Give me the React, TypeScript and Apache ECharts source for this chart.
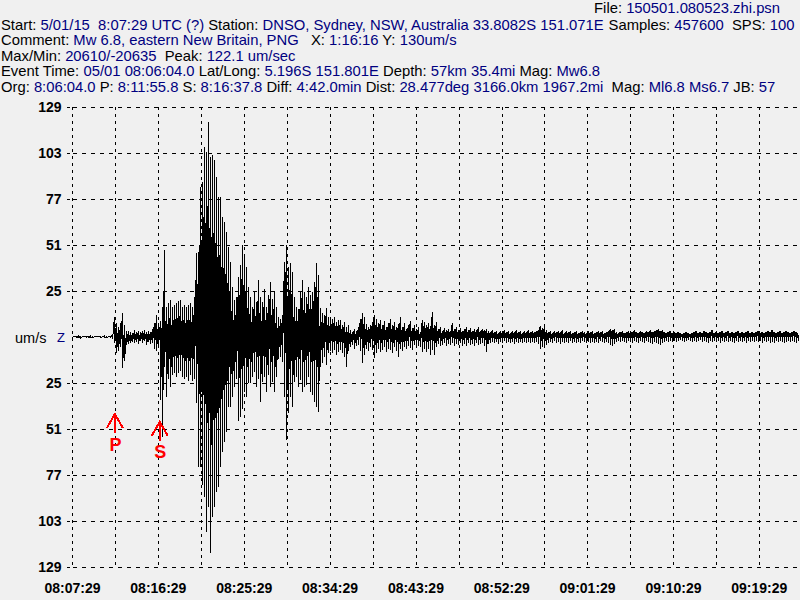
import React, { useEffect, useRef } from "react";
import * as echarts from "echarts";

// ---- axis / time constants (seconds after 08:07:29 UTC) ----
const START_CLOCK = 8 * 3600 + 7 * 60 + 29;
const SPAN_SEC = 4576; // 1:16:16
const STEP_SEC = 4576 / 364; // sampling of the read-off envelope
const TICK_SEC = 270; // 4.5 min grid
const LABEL_SEC = 540; // 9 min labels
const Y_LIMIT = 129;
const Y_STEP = 25.8;
const P_ARRIVAL = 266.8; // 8:11:55.8
const S_ARRIVAL = 548.8; // 8:16:37.8

// ---- trace values (um/s), upper / lower excursion per sample ----
const quietStart = 0;
const quietHi = [0.1, 0.1, 0.6, 0.8, 0.6, 0.1, 0.1, 0.2, 0.6, 0.8, 0.2, 0.1, 0.1, 0.1, 0.3, 0.1, 0.8, 0.2, 0.1, 0.2];
const quietLo = [-0.1, -0.1, -0.6, -0.6, -0.8, -0.1, -0.1, -0.3, -0.6, -0.7, -0.2, -0.1, -0.1, -0.1, -0.3, -0.1, -0.7, -0.3, -0.1, -0.2];

const pStart = 251.4;
const pHi = [1.1, 11.2, 7.9, 5.6, 7.9, 13.5, 6.7, 3.4, 3.4, 2.8, 2.2, 3.9, 2.8, 3.4, 2.8, 3.4, 3.9, 2.8, 3.4, 2.8, 4.5, 7.9, 12.3];
const pLo = [-1.1, -3.4, -9.0, -7.9, -5.6, -17.4, -13.5, -4.5, -3.9, -3.4, -2.8, -3.4, -2.8, -3.9, -2.2, -3.4, -2.2, -4.5, -2.8, -3.9, -3.4, -6.7, -7.9];

const sStart = 540.6;
const sHi = [
  7.9, 9.0, 16.8, 48.8, 16.8, 19.1, 20.8, 16.8, 18, 19.1,
  20.2, 20.8, 16.8, 18, 16.8, 18, 19.1, 16.8, 22.4, 47.1,
  47.7, 84.2, 87, 106.6, 103.8, 120.6, 101, 102.1, 99.3, 89.8,
  78.5, 78.5, 67.3, 64.5, 58.9, 50.5, 42.1, 28, 20.8, 22.4,
  33.7, 40.4, 51.6, 46, 39.3, 28,
];
const sLo = [
  -5.6, -35.3, -56.1, -16.8, -33.7, -23.6, -28, -21.3, -20.2, -22.4,
  -20.2, -19.1, -22.4, -23.6, -22.4, -24.7, -21.3, -24.7, -23.6, -37,
  -72.9, -72.9, -83, -89.8, -109.4, -95.4, -121.2, -101, -95.4, -87,
  -84.2, -72.9, -64.5, -58.9, -53.3, -39.3, -39.3, -33.7, -28, -23.6,
  -47.1, -44.9, -40.4, -30.9, -33.7, -25.8,
];

const laterStart = 1118.9;
const laterHi = [
  22.4, 16.8, 25.2, 19.6, 32, 22.4, 19.6, 26.9, 16.8, 23.6,
  30.9, 21.3, 25.2, 16.8, 11.2, 10.1, 12.3, 42.1, 51.6, 39.3,
  41.5, 36.5, 22.4, 16.8, 15.7, 25.2, 32, 25.2, 22.4, 28,
  23.6, 25.2, 30.9, 41.5, 34.8, 16.3, 13.5, 12.3, 16.3, 11.2,
  9.5, 10.1, 11.2, 8.4, 9.5, 9.5, 6.7, 8.4, 5.6, 6.7,
  3.9, 2.8, 4.5, 3.4, 5.6, 10.1, 13.5, 11.2, 7.3, 5.6,
  6.7, 8.4, 12.3, 10.1, 7.9, 9.5, 6.7, 9, 5.6, 7.9,
  10.1, 6.7, 8.4, 5.6, 7.3, 11.2, 5.6, 7.9, 4.5, 6.7,
  9, 5, 6.7, 4.5, 5.6,
];
const laterLo = [
  -25.8, -22.4, -19.6, -28, -23.6, -36.5, -25.2, -22.4, -30.9, -21.3,
  -28, -25.2, -30.9, -22.4, -12.3, -11.2, -14, -33.7, -57.8, -42.6,
  -33.7, -39.3, -25.2, -22.4, -28, -24.1, -30.9, -28, -26.9, -22.4,
  -30.9, -32.5, -36.5, -39.3, -42.1, -16.8, -14.6, -11.2, -15.7, -9,
  -7.9, -9, -7.3, -10.1, -8.4, -7.3, -9, -11.2, -16.8, -7.9,
  -5.6, -4.5, -6.7, -5, -4.5, -7.9, -14.6, -10.1, -6.7, -7.9,
  -5.6, -7.3, -11.8, -9, -6.7, -8.4, -7.3, -5.6, -8.4, -6.7,
  -7.3, -9, -5.6, -7.9, -11.2, -6.7, -7.9, -5.6, -6.7, -5,
  -6.2, -7.3, -4.5, -5.6, -5,
];

const codaEarlyStart = 2187.4;
const codaEarlyHi = [
  2.8, 9.5, 8.4, 6.7, 7.9, 6.2, 14, 6.7, 8.4, 4.5,
  5.6, 3.4, 5, 3.9, 4.5, 3.4, 7.9, 4.5, 5.6, 3.9,
  5, 3.4, 4.5, 5.6, 3.9, 5, 3.4, 4.5, 3.9, 5.6,
  3.4, 4.5, 3.9, 4.5, 3.4, 2.8, 3.9, 2.8, 3.4, 2.2,
  3.4, 2.8, 3.9, 2.8, 3.4, 2.2, 3.4, 2.8, 3.9, 2.8,
  3.4, 2.2, 3.4, 2.8, 3.9, 2.8, 3.4, 2.8, 3.4, 3.9,
  6.2, 5, 5.6, 3.9, 2.8, 3.4, 2.2, 3.4, 2.8, 3.4,
  2.8, 3.9, 2.2, 3.4, 2.8, 3.4, 2.2, 2.8, 3.4, 2.2,
  2.8, 3.4, 2.8, 2.2, 3.4, 2.8, 3.4, 2.2, 2.8, 3.4,
  2.8, 3.4, 2.2, 2.8, 3.4,
];
const codaEarlyLo = [
  -5.6, -8.4, -6.7, -8.4, -6.7, -10.1, -7.3, -10.1, -5.6, -3.9,
  -5, -4.5, -3.4, -5, -3.9, -4.5, -3.4, -5, -3.9, -4.5,
  -3.4, -5, -3.9, -5, -3.4, -4.5, -3.9, -5, -3.4, -4.5,
  -3.9, -3.4, -5, -8.4, -3.9, -3.4, -2.8, -3.4, -2.8, -3.9,
  -2.8, -3.4, -2.2, -3.4, -2.8, -3.4, -2.8, -3.9, -2.8, -3.4,
  -2.8, -3.4, -2.8, -3.4, -2.8, -3.4, -2.8, -3.4, -2.8, -3.9,
  -6.7, -5.6, -6.2, -4.5, -3.4, -2.8, -3.4, -2.2, -3.4, -2.8,
  -3.9, -2.8, -3.4, -2.8, -3.4, -2.2, -3.4, -2.8, -3.4, -2.8,
  -3.4, -2.2, -2.8, -3.4, -2.8, -3.4, -2.8, -3.4, -2.8, -3.4,
  -2.2, -2.8, -3.4, -2.8, -3.4,
];

const codaLateStart = 3381.7;
const codaLateHi = [
  4.5, 3.9, 4.5, 2.8, 2.2, 2.8, 3.4, 2.2, 2.8, 3.4,
  2.2, 2.8, 3.9, 2.8, 2.2, 3.4, 2.8, 2.2, 3.4, 2.8,
  3.9, 2.8, 3.4, 3.9, 4.5, 3.4, 3.9, 2.8, 2.2, 2.8,
  3.4, 2.2, 2.8, 2.2, 2.8, 2.2, 1.7, 2.2, 2.8, 2.2,
  1.7, 2.2, 2.8, 3.4, 2.2, 2.8, 2.2, 3.4, 2.8, 2.2,
  2.8, 3.9, 2.2, 2.8, 2.2, 2.8, 3.4, 2.2, 2.8, 3.4,
  2.2, 2.8, 2.2, 2.8, 3.4, 2.2, 2.8, 2.2, 2.8, 3.4,
  2.2, 2.8, 2.2, 2.8, 3.4, 2.2, 2.8, 2.2, 2.8, 3.4,
  2.8, 3.9, 2.8, 2.2, 2.8, 3.4, 2.2, 2.8, 3.4, 2.8,
  2.2, 2.8, 3.4, 2.8, 2.2,
];
const codaLateLo = [
  -4.5, -5, -3.9, -2.8, -2.2, -2.8, -2.2, -2.8, -3.4, -2.2,
  -2.8, -3.4, -2.2, -2.8, -3.4, -2.2, -2.8, -3.4, -2.2, -2.8,
  -3.4, -3.9, -2.8, -3.4, -3.9, -4.5, -3.4, -2.8, -2.2, -2.8,
  -2.2, -2.8, -2.2, -2.8, -2.2, -1.7, -2.2, -2.8, -2.2, -1.7,
  -2.2, -2.8, -2.2, -2.8, -2.2, -1.7, -2.8, -2.2, -2.8, -3.4,
  -2.2, -2.8, -2.2, -2.8, -2.2, -3.4, -2.2, -2.8, -2.2, -2.8,
  -2.2, -2.8, -3.4, -2.2, -2.8, -2.2, -2.8, -2.2, -3.4, -2.2,
  -2.8, -2.2, -2.8, -2.2, -2.8, -2.2, -3.4, -2.2, -2.8, -2.2,
  -3.4, -2.8, -3.4, -2.2, -2.8, -2.2, -2.8, -3.4, -2.8, -2.2,
  -2.8, -2.2, -2.8, -3.4, -2.2,
];

// ---- header text ----
const headerLines: [string, string][][] = [
  [["Start: ", "5/01/15  8:07:29 UTC (?)"], [" Station: ", "DNSO, Sydney, NSW, Australia 33.8082S 151.071E"], [" Samples: ", "457600"], ["  SPS: ", "100"]],
  [["Comment: ", "Mw 6.8, eastern New Britain, PNG"], ["   X: ", "1:16:16"], [" Y: ", "130um/s"]],
  [["Max/Min: ", "20610/-20635"], ["  Peak: ", "122.1 um/sec"]],
  [["Event Time: ", "05/01 08:06:04.0"], [" Lat/Long: ", "5.196S 151.801E"], [" Depth: ", "57km 35.4mi"], [" Mag: ", "Mw6.8"]],
  [["Org: ", "8:06:04.0"], [" P: ", "8:11:55.8"], [" S: ", "8:16:37.8"], [" Diff: ", "4:42.0min"], [" Dist: ", "28.477deg 3166.0km 1967.2mi"], ["  Mag: ", "Ml6.8 Ms6.7"], [" JB: ", "57"]],
];
const fileLine: [string, string] = ["File: ", "150501.080523.zhi.psn"];

const segments = [
  { start: quietStart, hi: quietHi, lo: quietLo },
  { start: pStart, hi: pHi, lo: pLo },
  { start: sStart, hi: sHi, lo: sLo },
  { start: laterStart, hi: laterHi, lo: laterLo },
  { start: codaEarlyStart, hi: codaEarlyHi, lo: codaEarlyLo },
  { start: codaLateStart, hi: codaLateHi, lo: codaLateLo },
];

// each sample is drawn as a vertical stroke (hi -> lo), joined to the next sample
const trace: [number, number][] = [];
segments.forEach((seg) => {
  const n = Math.min(seg.hi.length, seg.lo.length);
  for (let i = 0; i < n; i++) {
    const t = seg.start + i * STEP_SEC;
    trace.push([t, seg.hi[i]]);
    trace.push([t + STEP_SEC * 0.05, seg.lo[i]]);
  }
});

// y ticks except the zero line (which carries the "um/s Z" caption instead)
const yTickValues: number[] = [];
for (let k = -5; k <= 5; k++) if (k !== 0) yTickValues.push(k * Y_STEP);

const HEADER_FONT = "'Liberation Sans', Arial, sans-serif";
const HEADER_SIZE = 14.8;
const AXIS_FONT = "'Liberation Sans', Arial, sans-serif";
const NAVY = "#000080";

function pad(n: number) {
  return n < 10 ? "0" + n : String(n);
}
function clock(v: number) {
  const s = Math.round(START_CLOCK + v);
  return pad(Math.floor(s / 3600)) + ":" + pad(Math.floor((s % 3600) / 60)) + ":" + pad(s % 60);
}

function richLine(parts: [string, string][]) {
  return parts.map(([k, v]) => `{k|${k}}{v|${v}}`).join("");
}
const richStyles = {
  k: { fill: "#000", color: "#000", fontSize: HEADER_SIZE, fontFamily: HEADER_FONT },
  v: { fill: NAVY, color: NAVY, fontSize: HEADER_SIZE, fontFamily: HEADER_FONT },
};

function buildGraphics(xP: number, xS: number) {
  const els: any[] = [];
  els.push({
    type: "text",
    id: "file",
    x: 780,
    y: 7.5,
    z: 100,
    style: { text: richLine([fileLine]), rich: richStyles, fontSize: HEADER_SIZE, fontFamily: HEADER_FONT, verticalAlign: "middle", align: "right" },
  });
  const ys = [24.5, 40.3, 55.8, 71.4, 87.2];
  headerLines.forEach((line, i) => {
    els.push({
      type: "text",
      id: "h" + i,
      x: 1,
      y: ys[i],
      z: 100,
      style: { text: richLine(line), rich: richStyles, fontSize: HEADER_SIZE, fontFamily: HEADER_FONT, verticalAlign: "middle", align: "left" },
    });
  });
  els.push({
    type: "text",
    id: "unit",
    x: 15,
    y: 337.5,
    z: 100,
    style: { text: "um/s", fill: "#000", fontSize: 14.5, fontFamily: HEADER_FONT, verticalAlign: "middle", align: "left" },
  });
  els.push({
    type: "text",
    id: "comp",
    x: 57,
    y: 337.5,
    z: 100,
    style: { text: "Z", fill: NAVY, fontSize: 13, fontFamily: HEADER_FONT, verticalAlign: "middle", align: "left" },
  });
  const arrows: [string, number, number][] = [
    ["P", xP, 414],
    ["S", xS, 421.7],
  ];
  arrows.forEach(([name, x, tip]) => {
    els.push({
      type: "polyline",
      id: "ah" + name,
      z: 100,
      shape: { points: [[x - 8, tip + 14], [x, tip], [x + 8, tip + 14]] },
      style: { stroke: "#ff0000", lineWidth: 2, fill: "none" },
    });
    els.push({
      type: "line",
      id: "as" + name,
      z: 100,
      shape: { x1: x, y1: tip, x2: x, y2: tip + 19 },
      style: { stroke: "#ff0000", lineWidth: 2 },
    });
    els.push({
      type: "text",
      id: "al" + name,
      x: x + 0.5,
      y: tip + 30.5,
      z: 100,
      style: { text: name, fill: "#ff0000", fontSize: 18, fontWeight: "bold", fontFamily: AXIS_FONT, align: "center", verticalAlign: "middle" },
    });
  });
  return els;
}

export default function App() {
  const ref = useRef<HTMLDivElement>(null);
  useEffect(() => {
    if (!ref.current) return;
    const chart = echarts.init(ref.current, null, { renderer: "svg" });
    chart.setOption({
      animation: false,
      backgroundColor: "#f0f0f0",
      grid: { left: 72.5, right: 0, top: 107, bottom: 33, containLabel: false },
      xAxis: {
        type: "value",
        min: 0,
        max: SPAN_SEC,
        interval: TICK_SEC,
        axisLine: { show: false },
        axisTick: { show: true, length: 6, lineStyle: { color: "#000", type: [3, 3] } },
        splitLine: { show: true, showMaxLine: false, lineStyle: { color: "#000", type: [3, 4], width: 1 } },
        axisLabel: {
          show: true,
          margin: 14,
          color: "#000",
          fontSize: 14,
          fontWeight: "bold",
          fontFamily: AXIS_FONT,
          showMaxLabel: false,
          formatter: (v: number) =>
            Math.abs(v % LABEL_SEC) < 1e-6 && v < SPAN_SEC - 1 ? clock(v) : "",
        },
      },
      yAxis: {
        type: "value",
        min: -Y_LIMIT,
        max: Y_LIMIT,
        interval: Y_STEP,
        axisLine: { show: false },
        axisTick: {
          show: true,
          length: 6,
          customValues: yTickValues,
          lineStyle: { color: "#000", type: [3, 3], dashOffset: 3 },
        },
        splitLine: { show: true, lineStyle: { color: "#000", type: [4, 5], width: 1 } },
        axisLabel: {
          margin: 11,
          color: "#000",
          fontSize: 14,
          fontWeight: "bold",
          fontFamily: AXIS_FONT,
          formatter: (v: number) => (Math.abs(v) < 1e-6 ? "" : String(Math.floor(Math.abs(v) + 1e-6))),
        },
      },
      series: [
        {
          type: "line",
          data: trace,
          showSymbol: false,
          symbol: "none",
          silent: true,
          z: 3,
          lineStyle: { color: "#000", width: 1 },
        },
      ],
    });
    const pP = chart.convertToPixel({ gridIndex: 0 }, [P_ARRIVAL, 0]) as number[];
    const pS = chart.convertToPixel({ gridIndex: 0 }, [S_ARRIVAL, 0]) as number[];
    chart.setOption({ graphic: buildGraphics(pP[0], pS[0]) });
    return () => chart.dispose();
  }, []);
  return (
    <>
      <style>{`#seismo svg path { shape-rendering: crispEdges; }`}</style>
      <div id="seismo" ref={ref} style={{ position: "absolute", left: 0, top: 0, width: 800, height: 600 }} />
    </>
  );
}
